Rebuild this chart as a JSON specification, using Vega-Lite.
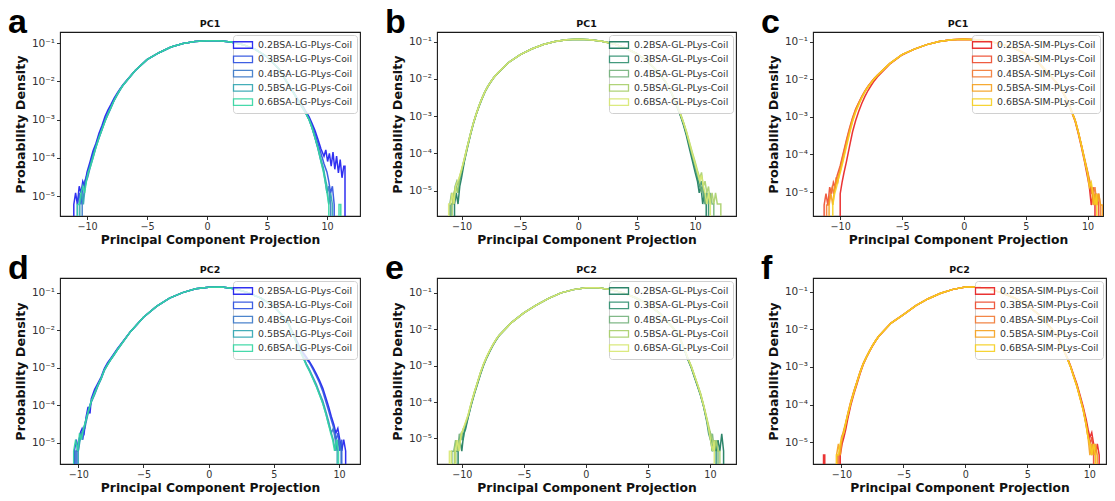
{
"$schema": "https://vega.github.io/schema/vega-lite/v6.json",
"background": "white",
"padding": {"left": 8, "top": 5, "right": 5, "bottom": 3},
"config": {
 "font": "DejaVu Sans",
 "view": {"stroke": "#1a1a1a", "strokeWidth": 1.1},
 "axis": {"domain": false, "grid": false, "ticks": true, "tickColor": "#1a1a1a", "tickSize": 3.5, "tickWidth": 0.9, "labelFont": "DejaVu Sans", "labelFontSize": 9.6, "labelColor": "#333333", "labelPadding": 2, "titleFont": "DejaVu Sans", "titleFontWeight": "bold", "titleColor": "#111111", "labelFlush": false},
 "axisX": {"titleFontSize": 12.3, "titlePadding": 2},
 "axisY": {"titleFontSize": 12.8, "titlePadding": 4, "labelFontSize": 10.5},
 "title": {"font": "DejaVu Sans", "fontSize": 9.5, "fontWeight": "bold", "color": "#111111", "offset": 4},
 "legend": {"orient": "top-right", "offset": 3, "labelFont": "DejaVu Sans", "labelFontSize": 9.4, "labelColor": "#333333", "symbolType": "M-1.9,-0.65H1.9V0.65H-1.9Z", "symbolSize": 100, "symbolStrokeWidth": 1.3, "symbolFillColor": "transparent", "fillColor": "rgba(255,255,255,0.82)", "strokeColor": "#d0d0d0", "cornerRadius": 3, "padding": 4, "rowPadding": 2.3, "labelOffset": 9}
},
"datasets": {
"names": [
{"g":"a2","name":"0.2BSA-LG-PLys-Coil"},{"g":"a3","name":"0.3BSA-LG-PLys-Coil"},{"g":"a4","name":"0.4BSA-LG-PLys-Coil"},{"g":"a5","name":"0.5BSA-LG-PLys-Coil"},{"g":"a6","name":"0.6BSA-LG-PLys-Coil"},
{"g":"b2","name":"0.2BSA-GL-PLys-Coil"},{"g":"b3","name":"0.3BSA-GL-PLys-Coil"},{"g":"b4","name":"0.4BSA-GL-PLys-Coil"},{"g":"b5","name":"0.5BSA-GL-PLys-Coil"},{"g":"b6","name":"0.6BSA-GL-PLys-Coil"},
{"g":"c2","name":"0.2BSA-SIM-PLys-Coil"},{"g":"c3","name":"0.3BSA-SIM-PLys-Coil"},{"g":"c4","name":"0.4BSA-SIM-PLys-Coil"},{"g":"c5","name":"0.5BSA-SIM-PLys-Coil"},{"g":"c6","name":"0.6BSA-SIM-PLys-Coil"},
{"g":"d2","name":"0.2BSA-LG-PLys-Coil"},{"g":"d3","name":"0.3BSA-LG-PLys-Coil"},{"g":"d4","name":"0.4BSA-LG-PLys-Coil"},{"g":"d5","name":"0.5BSA-LG-PLys-Coil"},{"g":"d6","name":"0.6BSA-LG-PLys-Coil"},
{"g":"e2","name":"0.2BSA-GL-PLys-Coil"},{"g":"e3","name":"0.3BSA-GL-PLys-Coil"},{"g":"e4","name":"0.4BSA-GL-PLys-Coil"},{"g":"e5","name":"0.5BSA-GL-PLys-Coil"},{"g":"e6","name":"0.6BSA-GL-PLys-Coil"},
{"g":"f2","name":"0.2BSA-SIM-PLys-Coil"},{"g":"f3","name":"0.3BSA-SIM-PLys-Coil"},{"g":"f4","name":"0.4BSA-SIM-PLys-Coil"},{"g":"f5","name":"0.5BSA-SIM-PLys-Coil"},{"g":"f6","name":"0.6BSA-SIM-PLys-Coil"}
],
"h": [
{"g":"a2","x":-11.1,"y":1e-9},{"g":"a2","x":-11.1,"y":6e-6},{"g":"a2","x":-10.95,"y":1.2e-5},{"g":"a2","x":-10.8,"y":6e-6},{"g":"a2","x":-10.65,"y":1.8e-5},{"g":"a2","x":-10.5,"y":1.2e-5},{"g":"a2","x":-10.35,"y":2.4e-5},{"g":"a2","x":-10.2,"y":1.8e-5},{"g":"a2","x":-10,"y":4.2e-5},{"g":"a2","x":-9.75,"y":7.8e-5},{"g":"a2","x":-9.5,"y":1.5e-4},{"g":"a2","x":-9.25,"y":2.4e-4},{"g":"a2","x":-9,"y":4.4e-4},{"g":"a2","x":-8.75,"y":7e-4},{"g":"a2","x":-8.5,"y":1.2e-3},{"g":"a2","x":-8.25,"y":1.8e-3},{"g":"a2","x":-8,"y":2.5e-3},{"g":"a2","x":-7.75,"y":3.6e-3},{"g":"a2","x":-7.5,"y":4.8e-3},{"g":"a2","x":-7.25,"y":6.3e-3},{"g":"a2","x":-7,"y":8.2e-3},
{"g":"a2","x":-6,"y":0.019},{"g":"a2","x":-5,"y":0.037},{"g":"a2","x":-4,"y":0.056},{"g":"a2","x":-3,"y":0.079},{"g":"a2","x":-2,"y":0.098},{"g":"a2","x":-1,"y":0.11},{"g":"a2","x":0,"y":0.115},{"g":"a2","x":1,"y":0.115},{"g":"a2","x":2,"y":0.107},{"g":"a2","x":3,"y":0.091},{"g":"a2","x":4,"y":0.069},{"g":"a2","x":5,"y":0.044},{"g":"a2","x":6,"y":0.021},
{"g":"a2","x":7,"y":6.5e-3},{"g":"a2","x":7.25,"y":5e-3},{"g":"a2","x":7.5,"y":3.7e-3},{"g":"a2","x":7.75,"y":2.8e-3},{"g":"a2","x":8,"y":2.2e-3},{"g":"a2","x":8.25,"y":1.6e-3},{"g":"a2","x":8.5,"y":1.2e-3},{"g":"a2","x":8.75,"y":8e-4},{"g":"a2","x":9,"y":5.2e-4},{"g":"a2","x":9.25,"y":3e-4},{"g":"a2","x":9.5,"y":1.7e-4},{"g":"a2","x":9.75,"y":1.1e-4},{"g":"a2","x":9.9,"y":1.6e-4},{"g":"a2","x":10.05,"y":8e-5},{"g":"a2","x":10.2,"y":1.3e-4},{"g":"a2","x":10.35,"y":6e-5},{"g":"a2","x":10.5,"y":1.4e-4},{"g":"a2","x":10.65,"y":5e-5},{"g":"a2","x":10.8,"y":1.1e-4},{"g":"a2","x":10.95,"y":4e-5},{"g":"a2","x":11.1,"y":9e-5},{"g":"a2","x":11.25,"y":3e-5},{"g":"a2","x":11.4,"y":6e-5},{"g":"a2","x":11.5,"y":6e-5},{"g":"a2","x":11.5,"y":1e-9},

{"g":"a3","x":-10.8,"y":1e-9},{"g":"a3","x":-10.8,"y":6e-6},{"g":"a3","x":-10.65,"y":1.2e-5},{"g":"a3","x":-10.5,"y":6e-6},{"g":"a3","x":-10.35,"y":1.8e-5},{"g":"a3","x":-10.2,"y":2.4e-5},{"g":"a3","x":-10,"y":3.6e-5},{"g":"a3","x":-9.75,"y":6.6e-5},{"g":"a3","x":-9.5,"y":1.3e-4},{"g":"a3","x":-9.25,"y":2.2e-4},{"g":"a3","x":-9,"y":3.8e-4},{"g":"a3","x":-8.75,"y":6.2e-4},{"g":"a3","x":-8.5,"y":1e-3},{"g":"a3","x":-8.25,"y":1.5e-3},{"g":"a3","x":-8,"y":2.2e-3},{"g":"a3","x":-7.75,"y":3.3e-3},{"g":"a3","x":-7.5,"y":4.5e-3},{"g":"a3","x":-7.25,"y":6.1e-3},{"g":"a3","x":-7,"y":8e-3},
{"g":"a3","x":-6,"y":0.019},{"g":"a3","x":-5,"y":0.037},{"g":"a3","x":-4,"y":0.056},{"g":"a3","x":-3,"y":0.079},{"g":"a3","x":-2,"y":0.098},{"g":"a3","x":-1,"y":0.11},{"g":"a3","x":0,"y":0.115},{"g":"a3","x":1,"y":0.115},{"g":"a3","x":2,"y":0.107},{"g":"a3","x":3,"y":0.091},{"g":"a3","x":4,"y":0.069},{"g":"a3","x":5,"y":0.044},{"g":"a3","x":6,"y":0.021},
{"g":"a3","x":7,"y":6.4e-3},{"g":"a3","x":7.25,"y":4.9e-3},{"g":"a3","x":7.5,"y":3.6e-3},{"g":"a3","x":7.75,"y":2.7e-3},{"g":"a3","x":8,"y":2.1e-3},{"g":"a3","x":8.25,"y":1.5e-3},{"g":"a3","x":8.5,"y":1.1e-3},{"g":"a3","x":8.75,"y":7e-4},{"g":"a3","x":9,"y":4.2e-4},{"g":"a3","x":9.25,"y":2.4e-4},{"g":"a3","x":9.5,"y":1.3e-4},{"g":"a3","x":9.75,"y":7e-5},{"g":"a3","x":10,"y":4.2e-5},{"g":"a3","x":10.15,"y":2.4e-5},{"g":"a3","x":10.3,"y":1.2e-5},{"g":"a3","x":10.45,"y":1.8e-5},{"g":"a3","x":10.6,"y":6e-6},{"g":"a3","x":10.6,"y":1e-9},

{"g":"a4","x":-10.4,"y":1e-9},{"g":"a4","x":-10.4,"y":6e-6},{"g":"a4","x":-10.25,"y":1.2e-5},{"g":"a4","x":-10.1,"y":2.4e-5},{"g":"a4","x":-9.95,"y":3e-5},{"g":"a4","x":-9.75,"y":5.4e-5},{"g":"a4","x":-9.5,"y":1e-4},{"g":"a4","x":-9.25,"y":1.9e-4},{"g":"a4","x":-9,"y":3.3e-4},{"g":"a4","x":-8.75,"y":5.4e-4},{"g":"a4","x":-8.5,"y":9e-4},{"g":"a4","x":-8.25,"y":1.35e-3},{"g":"a4","x":-8,"y":2e-3},{"g":"a4","x":-7.75,"y":3.1e-3},{"g":"a4","x":-7.5,"y":4.3e-3},{"g":"a4","x":-7.25,"y":5.9e-3},{"g":"a4","x":-7,"y":7.8e-3},
{"g":"a4","x":-6,"y":0.019},{"g":"a4","x":-5,"y":0.037},{"g":"a4","x":-4,"y":0.056},{"g":"a4","x":-3,"y":0.079},{"g":"a4","x":-2,"y":0.098},{"g":"a4","x":-1,"y":0.11},{"g":"a4","x":0,"y":0.115},{"g":"a4","x":1,"y":0.115},{"g":"a4","x":2,"y":0.107},{"g":"a4","x":3,"y":0.091},{"g":"a4","x":4,"y":0.069},{"g":"a4","x":5,"y":0.044},{"g":"a4","x":6,"y":0.021},
{"g":"a4","x":7,"y":6.2e-3},{"g":"a4","x":7.25,"y":4.7e-3},{"g":"a4","x":7.5,"y":3.4e-3},{"g":"a4","x":7.75,"y":2.5e-3},{"g":"a4","x":8,"y":1.9e-3},{"g":"a4","x":8.25,"y":1.4e-3},{"g":"a4","x":8.5,"y":1e-3},{"g":"a4","x":8.75,"y":6e-4},{"g":"a4","x":9,"y":3.3e-4},{"g":"a4","x":9.25,"y":1.7e-4},{"g":"a4","x":9.5,"y":8e-5},{"g":"a4","x":9.7,"y":4.8e-5},{"g":"a4","x":9.85,"y":2.4e-5},{"g":"a4","x":10,"y":1.2e-5},{"g":"a4","x":10.15,"y":1.8e-5},{"g":"a4","x":10.3,"y":6e-6},{"g":"a4","x":10.3,"y":1e-9},

{"g":"a5","x":-10.6,"y":1e-9},{"g":"a5","x":-10.6,"y":6e-6},{"g":"a5","x":-10.45,"y":1.2e-5},{"g":"a5","x":-10.3,"y":6e-6},{"g":"a5","x":-10.15,"y":1.8e-5},{"g":"a5","x":-10,"y":3e-5},{"g":"a5","x":-9.75,"y":6e-5},{"g":"a5","x":-9.5,"y":1.1e-4},{"g":"a5","x":-9.25,"y":2e-4},{"g":"a5","x":-9,"y":3.4e-4},{"g":"a5","x":-8.75,"y":5.6e-4},{"g":"a5","x":-8.5,"y":9.2e-4},{"g":"a5","x":-8.25,"y":1.4e-3},{"g":"a5","x":-8,"y":2.1e-3},{"g":"a5","x":-7.75,"y":3.1e-3},{"g":"a5","x":-7.5,"y":4.4e-3},{"g":"a5","x":-7.25,"y":6e-3},{"g":"a5","x":-7,"y":7.9e-3},
{"g":"a5","x":-6,"y":0.019},{"g":"a5","x":-5,"y":0.037},{"g":"a5","x":-4,"y":0.056},{"g":"a5","x":-3,"y":0.079},{"g":"a5","x":-2,"y":0.098},{"g":"a5","x":-1,"y":0.11},{"g":"a5","x":0,"y":0.115},{"g":"a5","x":1,"y":0.115},{"g":"a5","x":2,"y":0.107},{"g":"a5","x":3,"y":0.091},{"g":"a5","x":4,"y":0.069},{"g":"a5","x":5,"y":0.044},{"g":"a5","x":6,"y":0.021},
{"g":"a5","x":7,"y":6.3e-3},{"g":"a5","x":7.25,"y":4.8e-3},{"g":"a5","x":7.5,"y":3.5e-3},{"g":"a5","x":7.75,"y":2.6e-3},{"g":"a5","x":8,"y":2e-3},{"g":"a5","x":8.25,"y":1.45e-3},{"g":"a5","x":8.5,"y":1e-3},{"g":"a5","x":8.75,"y":6.2e-4},{"g":"a5","x":9,"y":3.4e-4},{"g":"a5","x":9.25,"y":1.8e-4},{"g":"a5","x":9.5,"y":9e-5},{"g":"a5","x":9.7,"y":5.4e-5},{"g":"a5","x":9.85,"y":3e-5},{"g":"a5","x":10,"y":1.8e-5},{"g":"a5","x":10.15,"y":6e-6},{"g":"a5","x":10.3,"y":1.2e-5},{"g":"a5","x":10.45,"y":6e-6},{"g":"a5","x":10.45,"y":1e-9},

{"g":"a6","x":-10.8,"y":1e-9},{"g":"a6","x":-10.8,"y":6e-6},{"g":"a6","x":-10.65,"y":6e-6},{"g":"a6","x":-10.5,"y":1.2e-5},{"g":"a6","x":-10.35,"y":1.8e-5},{"g":"a6","x":-10.2,"y":1.2e-5},{"g":"a6","x":-10.05,"y":2.4e-5},{"g":"a6","x":-9.9,"y":4.2e-5},{"g":"a6","x":-9.75,"y":5.4e-5},{"g":"a6","x":-9.5,"y":1e-4},{"g":"a6","x":-9.25,"y":1.9e-4},{"g":"a6","x":-9,"y":3.4e-4},{"g":"a6","x":-8.75,"y":5.5e-4},{"g":"a6","x":-8.5,"y":9e-4},{"g":"a6","x":-8.25,"y":1.4e-3},{"g":"a6","x":-8,"y":2.1e-3},{"g":"a6","x":-7.75,"y":3.1e-3},{"g":"a6","x":-7.5,"y":4.4e-3},{"g":"a6","x":-7.25,"y":6e-3},{"g":"a6","x":-7,"y":7.9e-3},
{"g":"a6","x":-6,"y":0.019},{"g":"a6","x":-5,"y":0.037},{"g":"a6","x":-4,"y":0.056},{"g":"a6","x":-3,"y":0.079},{"g":"a6","x":-2,"y":0.098},{"g":"a6","x":-1,"y":0.11},{"g":"a6","x":0,"y":0.115},{"g":"a6","x":1,"y":0.115},{"g":"a6","x":2,"y":0.107},{"g":"a6","x":3,"y":0.091},{"g":"a6","x":4,"y":0.069},{"g":"a6","x":5,"y":0.044},{"g":"a6","x":6,"y":0.021},
{"g":"a6","x":7,"y":6.3e-3},{"g":"a6","x":7.25,"y":4.8e-3},{"g":"a6","x":7.5,"y":3.5e-3},{"g":"a6","x":7.75,"y":2.6e-3},{"g":"a6","x":8,"y":2e-3},{"g":"a6","x":8.25,"y":1.45e-3},{"g":"a6","x":8.5,"y":1e-3},{"g":"a6","x":8.75,"y":6.2e-4},{"g":"a6","x":9,"y":3.4e-4},{"g":"a6","x":9.25,"y":1.8e-4},{"g":"a6","x":9.5,"y":8e-5},{"g":"a6","x":9.7,"y":4.2e-5},{"g":"a6","x":9.85,"y":2.4e-5},{"g":"a6","x":10,"y":1.2e-5},{"g":"a6","x":10.15,"y":6e-6},{"g":"a6","x":10.15,"y":1e-9},{"g":"a6","x":11,"y":1e-9},{"g":"a6","x":11,"y":6e-6},{"g":"a6","x":11.15,"y":6e-6},{"g":"a6","x":11.15,"y":1e-9},

{"g":"b2","x":-10.6,"y":1e-9},{"g":"b2","x":-10.6,"y":4.4e-6},{"g":"b2","x":-10.45,"y":8.8e-6},{"g":"b2","x":-10.3,"y":4.4e-6},{"g":"b2","x":-10.15,"y":1.3e-5},{"g":"b2","x":-10,"y":2.2e-5},{"g":"b2","x":-9.75,"y":6.2e-5},{"g":"b2","x":-9.5,"y":1.4e-4},{"g":"b2","x":-9.25,"y":3e-4},{"g":"b2","x":-9,"y":6e-4},{"g":"b2","x":-8.75,"y":1.1e-3},{"g":"b2","x":-8.5,"y":1.8e-3},{"g":"b2","x":-8.25,"y":2.9e-3},{"g":"b2","x":-8,"y":4.4e-3},{"g":"b2","x":-7.75,"y":6.2e-3},{"g":"b2","x":-7.5,"y":8.2e-3},{"g":"b2","x":-7.25,"y":1.06e-2},{"g":"b2","x":-7,"y":1.31e-2},
{"g":"b2","x":-6,"y":0.027},{"g":"b2","x":-5,"y":0.044},{"g":"b2","x":-4,"y":0.063},{"g":"b2","x":-3,"y":0.083},{"g":"b2","x":-2,"y":0.1},{"g":"b2","x":-1,"y":0.112},{"g":"b2","x":0,"y":0.115},{"g":"b2","x":1,"y":0.112},{"g":"b2","x":2,"y":0.102},{"g":"b2","x":3,"y":0.087},{"g":"b2","x":4,"y":0.068},{"g":"b2","x":5,"y":0.047},{"g":"b2","x":6,"y":0.028},
{"g":"b2","x":7,"y":1.32e-2},{"g":"b2","x":7.25,"y":1.02e-2},{"g":"b2","x":7.5,"y":7.9e-3},{"g":"b2","x":7.75,"y":5.6e-3},{"g":"b2","x":8,"y":4e-3},{"g":"b2","x":8.25,"y":2.6e-3},{"g":"b2","x":8.5,"y":1.6e-3},{"g":"b2","x":8.75,"y":1e-3},{"g":"b2","x":9,"y":5.8e-4},{"g":"b2","x":9.25,"y":3e-4},{"g":"b2","x":9.5,"y":1.4e-4},{"g":"b2","x":9.75,"y":6.6e-5},{"g":"b2","x":10,"y":3.1e-5},{"g":"b2","x":10.2,"y":1.8e-5},{"g":"b2","x":10.35,"y":8.8e-6},{"g":"b2","x":10.5,"y":1.3e-5},{"g":"b2","x":10.65,"y":4.4e-6},{"g":"b2","x":10.8,"y":8.8e-6},{"g":"b2","x":10.95,"y":4.4e-6},{"g":"b2","x":10.95,"y":1e-9},

{"g":"b3","x":-10.9,"y":1e-9},{"g":"b3","x":-10.9,"y":4.4e-6},{"g":"b3","x":-10.75,"y":4.4e-6},{"g":"b3","x":-10.6,"y":8.8e-6},{"g":"b3","x":-10.45,"y":1.3e-5},{"g":"b3","x":-10.3,"y":8.8e-6},{"g":"b3","x":-10.15,"y":1.8e-5},{"g":"b3","x":-10,"y":3.1e-5},{"g":"b3","x":-9.75,"y":6.6e-5},{"g":"b3","x":-9.5,"y":1.5e-4},{"g":"b3","x":-9.25,"y":3.1e-4},{"g":"b3","x":-9,"y":6.2e-4},{"g":"b3","x":-8.75,"y":1.1e-3},{"g":"b3","x":-8.5,"y":1.9e-3},{"g":"b3","x":-8.25,"y":3e-3},{"g":"b3","x":-8,"y":4.5e-3},{"g":"b3","x":-7.75,"y":6.3e-3},{"g":"b3","x":-7.5,"y":8.3e-3},{"g":"b3","x":-7.25,"y":1.07e-2},{"g":"b3","x":-7,"y":1.32e-2},
{"g":"b3","x":-6,"y":0.027},{"g":"b3","x":-5,"y":0.044},{"g":"b3","x":-4,"y":0.063},{"g":"b3","x":-3,"y":0.083},{"g":"b3","x":-2,"y":0.1},{"g":"b3","x":-1,"y":0.112},{"g":"b3","x":0,"y":0.115},{"g":"b3","x":1,"y":0.112},{"g":"b3","x":2,"y":0.102},{"g":"b3","x":3,"y":0.087},{"g":"b3","x":4,"y":0.068},{"g":"b3","x":5,"y":0.047},{"g":"b3","x":6,"y":0.028},
{"g":"b3","x":7,"y":1.32e-2},{"g":"b3","x":7.25,"y":1.02e-2},{"g":"b3","x":7.5,"y":7.9e-3},{"g":"b3","x":7.75,"y":5.6e-3},{"g":"b3","x":8,"y":4e-3},{"g":"b3","x":8.25,"y":2.6e-3},{"g":"b3","x":8.5,"y":1.7e-3},{"g":"b3","x":8.75,"y":1.05e-3},{"g":"b3","x":9,"y":6.3e-4},{"g":"b3","x":9.25,"y":3.4e-4},{"g":"b3","x":9.5,"y":1.7e-4},{"g":"b3","x":9.75,"y":8e-5},{"g":"b3","x":10,"y":4e-5},{"g":"b3","x":10.2,"y":2.2e-5},{"g":"b3","x":10.4,"y":1.3e-5},{"g":"b3","x":10.55,"y":1.8e-5},{"g":"b3","x":10.7,"y":8.8e-6},{"g":"b3","x":10.85,"y":4.4e-6},{"g":"b3","x":11,"y":8.8e-6},{"g":"b3","x":11.15,"y":4.4e-6},{"g":"b3","x":11.15,"y":1e-9},

{"g":"b4","x":-11,"y":1e-9},{"g":"b4","x":-11,"y":4.4e-6},{"g":"b4","x":-10.85,"y":8.8e-6},{"g":"b4","x":-10.7,"y":4.4e-6},{"g":"b4","x":-10.55,"y":1.3e-5},{"g":"b4","x":-10.4,"y":1.8e-5},{"g":"b4","x":-10.25,"y":1.3e-5},{"g":"b4","x":-10.1,"y":2.6e-5},{"g":"b4","x":-9.95,"y":4e-5},{"g":"b4","x":-9.75,"y":7.5e-5},{"g":"b4","x":-9.5,"y":1.6e-4},{"g":"b4","x":-9.25,"y":3.3e-4},{"g":"b4","x":-9,"y":6.4e-4},{"g":"b4","x":-8.75,"y":1.13e-3},{"g":"b4","x":-8.5,"y":1.9e-3},{"g":"b4","x":-8.25,"y":3e-3},{"g":"b4","x":-8,"y":4.5e-3},{"g":"b4","x":-7.75,"y":6.3e-3},{"g":"b4","x":-7.5,"y":8.3e-3},{"g":"b4","x":-7.25,"y":1.07e-2},{"g":"b4","x":-7,"y":1.32e-2},
{"g":"b4","x":-6,"y":0.027},{"g":"b4","x":-5,"y":0.044},{"g":"b4","x":-4,"y":0.063},{"g":"b4","x":-3,"y":0.083},{"g":"b4","x":-2,"y":0.1},{"g":"b4","x":-1,"y":0.112},{"g":"b4","x":0,"y":0.115},{"g":"b4","x":1,"y":0.112},{"g":"b4","x":2,"y":0.102},{"g":"b4","x":3,"y":0.087},{"g":"b4","x":4,"y":0.068},{"g":"b4","x":5,"y":0.047},{"g":"b4","x":6,"y":0.028},
{"g":"b4","x":7,"y":1.33e-2},{"g":"b4","x":7.25,"y":1.03e-2},{"g":"b4","x":7.5,"y":8e-3},{"g":"b4","x":7.75,"y":5.7e-3},{"g":"b4","x":8,"y":4.1e-3},{"g":"b4","x":8.25,"y":2.7e-3},{"g":"b4","x":8.5,"y":1.7e-3},{"g":"b4","x":8.75,"y":1.1e-3},{"g":"b4","x":9,"y":6.6e-4},{"g":"b4","x":9.25,"y":3.6e-4},{"g":"b4","x":9.5,"y":1.8e-4},{"g":"b4","x":9.75,"y":9e-5},{"g":"b4","x":10,"y":4.8e-5},{"g":"b4","x":10.2,"y":2.6e-5},{"g":"b4","x":10.4,"y":1.8e-5},{"g":"b4","x":10.55,"y":8.8e-6},{"g":"b4","x":10.7,"y":1.3e-5},{"g":"b4","x":10.85,"y":4.4e-6},{"g":"b4","x":11,"y":8.8e-6},{"g":"b4","x":11.15,"y":4.4e-6},{"g":"b4","x":11.3,"y":8.8e-6},{"g":"b4","x":11.45,"y":4.4e-6},{"g":"b4","x":11.6,"y":4.4e-6},{"g":"b4","x":11.6,"y":1e-9},

{"g":"b5","x":-10.8,"y":1e-9},{"g":"b5","x":-10.8,"y":4.4e-6},{"g":"b5","x":-10.65,"y":8.8e-6},{"g":"b5","x":-10.5,"y":1.3e-5},{"g":"b5","x":-10.35,"y":8.8e-6},{"g":"b5","x":-10.2,"y":2.2e-5},{"g":"b5","x":-10,"y":3.5e-5},{"g":"b5","x":-9.75,"y":7.1e-5},{"g":"b5","x":-9.5,"y":1.5e-4},{"g":"b5","x":-9.25,"y":3.2e-4},{"g":"b5","x":-9,"y":6.3e-4},{"g":"b5","x":-8.75,"y":1.12e-3},{"g":"b5","x":-8.5,"y":1.9e-3},{"g":"b5","x":-8.25,"y":3e-3},{"g":"b5","x":-8,"y":4.5e-3},{"g":"b5","x":-7.75,"y":6.3e-3},{"g":"b5","x":-7.5,"y":8.3e-3},{"g":"b5","x":-7.25,"y":1.07e-2},{"g":"b5","x":-7,"y":1.32e-2},
{"g":"b5","x":-6,"y":0.027},{"g":"b5","x":-5,"y":0.044},{"g":"b5","x":-4,"y":0.063},{"g":"b5","x":-3,"y":0.083},{"g":"b5","x":-2,"y":0.1},{"g":"b5","x":-1,"y":0.112},{"g":"b5","x":0,"y":0.115},{"g":"b5","x":1,"y":0.112},{"g":"b5","x":2,"y":0.102},{"g":"b5","x":3,"y":0.087},{"g":"b5","x":4,"y":0.068},{"g":"b5","x":5,"y":0.047},{"g":"b5","x":6,"y":0.028},
{"g":"b5","x":7,"y":1.34e-2},{"g":"b5","x":7.25,"y":1.04e-2},{"g":"b5","x":7.5,"y":8.1e-3},{"g":"b5","x":7.75,"y":5.8e-3},{"g":"b5","x":8,"y":4.2e-3},{"g":"b5","x":8.25,"y":2.8e-3},{"g":"b5","x":8.5,"y":1.8e-3},{"g":"b5","x":8.75,"y":1.15e-3},{"g":"b5","x":9,"y":7e-4},{"g":"b5","x":9.25,"y":4e-4},{"g":"b5","x":9.5,"y":2.1e-4},{"g":"b5","x":9.75,"y":1.1e-4},{"g":"b5","x":10,"y":6e-5},{"g":"b5","x":10.2,"y":3.5e-5},{"g":"b5","x":10.4,"y":2.2e-5},{"g":"b5","x":10.55,"y":3.1e-5},{"g":"b5","x":10.7,"y":1.3e-5},{"g":"b5","x":10.85,"y":1.8e-5},{"g":"b5","x":11,"y":8.8e-6},{"g":"b5","x":11.15,"y":1.3e-5},{"g":"b5","x":11.3,"y":4.4e-6},{"g":"b5","x":11.45,"y":8.8e-6},{"g":"b5","x":11.6,"y":4.4e-6},{"g":"b5","x":11.75,"y":8.8e-6},{"g":"b5","x":11.9,"y":4.4e-6},{"g":"b5","x":12.05,"y":4.4e-6},{"g":"b5","x":12.2,"y":4.4e-6},{"g":"b5","x":12.2,"y":1e-9},

{"g":"b6","x":-11.1,"y":1e-9},{"g":"b6","x":-11.1,"y":4.4e-6},{"g":"b6","x":-10.95,"y":4.4e-6},{"g":"b6","x":-10.8,"y":8.8e-6},{"g":"b6","x":-10.65,"y":4.4e-6},{"g":"b6","x":-10.5,"y":1.3e-5},{"g":"b6","x":-10.35,"y":1.8e-5},{"g":"b6","x":-10.2,"y":2.2e-5},{"g":"b6","x":-10,"y":3.8e-5},{"g":"b6","x":-9.75,"y":7.3e-5},{"g":"b6","x":-9.5,"y":1.55e-4},{"g":"b6","x":-9.25,"y":3.2e-4},{"g":"b6","x":-9,"y":6.3e-4},{"g":"b6","x":-8.75,"y":1.12e-3},{"g":"b6","x":-8.5,"y":1.9e-3},{"g":"b6","x":-8.25,"y":3e-3},{"g":"b6","x":-8,"y":4.5e-3},{"g":"b6","x":-7.75,"y":6.3e-3},{"g":"b6","x":-7.5,"y":8.3e-3},{"g":"b6","x":-7.25,"y":1.07e-2},{"g":"b6","x":-7,"y":1.32e-2},
{"g":"b6","x":-6,"y":0.027},{"g":"b6","x":-5,"y":0.044},{"g":"b6","x":-4,"y":0.063},{"g":"b6","x":-3,"y":0.083},{"g":"b6","x":-2,"y":0.1},{"g":"b6","x":-1,"y":0.112},{"g":"b6","x":0,"y":0.115},{"g":"b6","x":1,"y":0.112},{"g":"b6","x":2,"y":0.102},{"g":"b6","x":3,"y":0.087},{"g":"b6","x":4,"y":0.068},{"g":"b6","x":5,"y":0.047},{"g":"b6","x":6,"y":0.028},
{"g":"b6","x":7,"y":1.33e-2},{"g":"b6","x":7.25,"y":1.03e-2},{"g":"b6","x":7.5,"y":8e-3},{"g":"b6","x":7.75,"y":5.7e-3},{"g":"b6","x":8,"y":4.1e-3},{"g":"b6","x":8.25,"y":2.7e-3},{"g":"b6","x":8.5,"y":1.75e-3},{"g":"b6","x":8.75,"y":1.1e-3},{"g":"b6","x":9,"y":6.8e-4},{"g":"b6","x":9.25,"y":3.8e-4},{"g":"b6","x":9.5,"y":2e-4},{"g":"b6","x":9.75,"y":1e-4},{"g":"b6","x":10,"y":5.2e-5},{"g":"b6","x":10.2,"y":3.1e-5},{"g":"b6","x":10.4,"y":1.8e-5},{"g":"b6","x":10.55,"y":2.6e-5},{"g":"b6","x":10.7,"y":1.3e-5},{"g":"b6","x":10.85,"y":8.8e-6},{"g":"b6","x":11,"y":4.4e-6},{"g":"b6","x":11.15,"y":8.8e-6},{"g":"b6","x":11.3,"y":4.4e-6},{"g":"b6","x":11.3,"y":1e-9},

{"g":"c2","x":-10,"y":1e-9},{"g":"c2","x":-10,"y":9e-6},{"g":"c2","x":-9.85,"y":1.8e-5},{"g":"c2","x":-9.7,"y":3.2e-5},{"g":"c2","x":-9.5,"y":6.3e-5},{"g":"c2","x":-9.25,"y":1.6e-4},{"g":"c2","x":-9,"y":4e-4},{"g":"c2","x":-8.75,"y":8e-4},{"g":"c2","x":-8.5,"y":1.4e-3},{"g":"c2","x":-8.25,"y":2.3e-3},{"g":"c2","x":-8,"y":3.5e-3},{"g":"c2","x":-7.75,"y":5e-3},{"g":"c2","x":-7.5,"y":6.8e-3},{"g":"c2","x":-7.25,"y":9e-3},{"g":"c2","x":-7,"y":1.15e-2},
{"g":"c2","x":-6,"y":0.025},{"g":"c2","x":-5,"y":0.044},{"g":"c2","x":-4,"y":0.063},{"g":"c2","x":-3,"y":0.083},{"g":"c2","x":-2,"y":0.1},{"g":"c2","x":-1,"y":0.112},{"g":"c2","x":0,"y":0.115},{"g":"c2","x":1,"y":0.112},{"g":"c2","x":2,"y":0.102},{"g":"c2","x":3,"y":0.087},{"g":"c2","x":4,"y":0.068},{"g":"c2","x":5,"y":0.047},{"g":"c2","x":6,"y":0.028},
{"g":"c2","x":7,"y":1.25e-2},{"g":"c2","x":7.25,"y":9.9e-3},{"g":"c2","x":7.5,"y":7.8e-3},{"g":"c2","x":7.75,"y":5.9e-3},{"g":"c2","x":8,"y":4.4e-3},{"g":"c2","x":8.25,"y":3.1e-3},{"g":"c2","x":8.5,"y":2e-3},{"g":"c2","x":8.75,"y":1.25e-3},{"g":"c2","x":9,"y":7.5e-4},{"g":"c2","x":9.25,"y":3.6e-4},{"g":"c2","x":9.5,"y":1.6e-4},{"g":"c2","x":9.75,"y":6.5e-5},{"g":"c2","x":10,"y":2.5e-5},{"g":"c2","x":10.15,"y":1.35e-5},{"g":"c2","x":10.3,"y":4.5e-6},{"g":"c2","x":10.45,"y":9e-6},{"g":"c2","x":10.6,"y":4.5e-6},{"g":"c2","x":10.6,"y":1e-9},

{"g":"c3","x":-11.3,"y":1e-9},{"g":"c3","x":-11.3,"y":4.5e-6},{"g":"c3","x":-11.15,"y":9e-6},{"g":"c3","x":-11,"y":4.5e-6},{"g":"c3","x":-10.85,"y":1.35e-5},{"g":"c3","x":-10.7,"y":9e-6},{"g":"c3","x":-10.55,"y":1.8e-5},{"g":"c3","x":-10.4,"y":1.35e-5},{"g":"c3","x":-10.25,"y":2.7e-5},{"g":"c3","x":-10,"y":5e-5},{"g":"c3","x":-9.75,"y":1.1e-4},{"g":"c3","x":-9.5,"y":2.4e-4},{"g":"c3","x":-9.25,"y":5e-4},{"g":"c3","x":-9,"y":9.5e-4},{"g":"c3","x":-8.75,"y":1.6e-3},{"g":"c3","x":-8.5,"y":2.4e-3},{"g":"c3","x":-8.25,"y":3.5e-3},{"g":"c3","x":-8,"y":4.9e-3},{"g":"c3","x":-7.75,"y":6.5e-3},{"g":"c3","x":-7.5,"y":8.3e-3},{"g":"c3","x":-7.25,"y":1.05e-2},{"g":"c3","x":-7,"y":1.27e-2},
{"g":"c3","x":-6,"y":0.026},{"g":"c3","x":-5,"y":0.045},{"g":"c3","x":-4,"y":0.063},{"g":"c3","x":-3,"y":0.083},{"g":"c3","x":-2,"y":0.1},{"g":"c3","x":-1,"y":0.112},{"g":"c3","x":0,"y":0.115},{"g":"c3","x":1,"y":0.112},{"g":"c3","x":2,"y":0.102},{"g":"c3","x":3,"y":0.087},{"g":"c3","x":4,"y":0.068},{"g":"c3","x":5,"y":0.047},{"g":"c3","x":6,"y":0.028},
{"g":"c3","x":7,"y":1.26e-2},{"g":"c3","x":7.25,"y":1e-2},{"g":"c3","x":7.5,"y":7.9e-3},{"g":"c3","x":7.75,"y":6e-3},{"g":"c3","x":8,"y":4.5e-3},{"g":"c3","x":8.25,"y":3.2e-3},{"g":"c3","x":8.5,"y":2.1e-3},{"g":"c3","x":8.75,"y":1.3e-3},{"g":"c3","x":9,"y":8e-4},{"g":"c3","x":9.25,"y":3.9e-4},{"g":"c3","x":9.5,"y":1.8e-4},{"g":"c3","x":9.75,"y":7.5e-5},{"g":"c3","x":10,"y":3.2e-5},{"g":"c3","x":10.15,"y":1.8e-5},{"g":"c3","x":10.3,"y":9e-6},{"g":"c3","x":10.45,"y":1.35e-5},{"g":"c3","x":10.6,"y":4.5e-6},{"g":"c3","x":10.75,"y":9e-6},{"g":"c3","x":10.9,"y":4.5e-6},{"g":"c3","x":10.9,"y":1e-9},

{"g":"c4","x":-11.1,"y":1e-9},{"g":"c4","x":-11.1,"y":4.5e-6},{"g":"c4","x":-10.95,"y":4.5e-6},{"g":"c4","x":-10.8,"y":9e-6},{"g":"c4","x":-10.65,"y":1.35e-5},{"g":"c4","x":-10.5,"y":9e-6},{"g":"c4","x":-10.35,"y":2.2e-5},{"g":"c4","x":-10.2,"y":1.8e-5},{"g":"c4","x":-10,"y":4.4e-5},{"g":"c4","x":-9.75,"y":1e-4},{"g":"c4","x":-9.5,"y":2.2e-4},{"g":"c4","x":-9.25,"y":4.6e-4},{"g":"c4","x":-9,"y":9e-4},{"g":"c4","x":-8.75,"y":1.55e-3},{"g":"c4","x":-8.5,"y":2.35e-3},{"g":"c4","x":-8.25,"y":3.4e-3},{"g":"c4","x":-8,"y":4.8e-3},{"g":"c4","x":-7.75,"y":6.4e-3},{"g":"c4","x":-7.5,"y":8.2e-3},{"g":"c4","x":-7.25,"y":1.04e-2},{"g":"c4","x":-7,"y":1.27e-2},
{"g":"c4","x":-6,"y":0.026},{"g":"c4","x":-5,"y":0.045},{"g":"c4","x":-4,"y":0.063},{"g":"c4","x":-3,"y":0.083},{"g":"c4","x":-2,"y":0.1},{"g":"c4","x":-1,"y":0.112},{"g":"c4","x":0,"y":0.115},{"g":"c4","x":1,"y":0.112},{"g":"c4","x":2,"y":0.102},{"g":"c4","x":3,"y":0.087},{"g":"c4","x":4,"y":0.068},{"g":"c4","x":5,"y":0.047},{"g":"c4","x":6,"y":0.028},
{"g":"c4","x":7,"y":1.27e-2},{"g":"c4","x":7.25,"y":1.01e-2},{"g":"c4","x":7.5,"y":8e-3},{"g":"c4","x":7.75,"y":6.1e-3},{"g":"c4","x":8,"y":4.6e-3},{"g":"c4","x":8.25,"y":3.3e-3},{"g":"c4","x":8.5,"y":2.2e-3},{"g":"c4","x":8.75,"y":1.35e-3},{"g":"c4","x":9,"y":8.2e-4},{"g":"c4","x":9.25,"y":4e-4},{"g":"c4","x":9.5,"y":1.8e-4},{"g":"c4","x":9.75,"y":8e-5},{"g":"c4","x":10,"y":3.6e-5},{"g":"c4","x":10.15,"y":2.2e-5},{"g":"c4","x":10.3,"y":1.35e-5},{"g":"c4","x":10.45,"y":9e-6},{"g":"c4","x":10.6,"y":1.35e-5},{"g":"c4","x":10.75,"y":4.5e-6},{"g":"c4","x":10.9,"y":9e-6},{"g":"c4","x":11.05,"y":4.5e-6},{"g":"c4","x":11.05,"y":1e-9},

{"g":"c5","x":-10.9,"y":1e-9},{"g":"c5","x":-10.9,"y":4.5e-6},{"g":"c5","x":-10.75,"y":9e-6},{"g":"c5","x":-10.6,"y":4.5e-6},{"g":"c5","x":-10.45,"y":1.35e-5},{"g":"c5","x":-10.3,"y":1.8e-5},{"g":"c5","x":-10.15,"y":2.7e-5},{"g":"c5","x":-10,"y":3.6e-5},{"g":"c5","x":-9.75,"y":8e-5},{"g":"c5","x":-9.5,"y":1.8e-4},{"g":"c5","x":-9.25,"y":3.9e-4},{"g":"c5","x":-9,"y":8e-4},{"g":"c5","x":-8.75,"y":1.4e-3},{"g":"c5","x":-8.5,"y":2.2e-3},{"g":"c5","x":-8.25,"y":3.3e-3},{"g":"c5","x":-8,"y":4.7e-3},{"g":"c5","x":-7.75,"y":6.3e-3},{"g":"c5","x":-7.5,"y":8.1e-3},{"g":"c5","x":-7.25,"y":1.03e-2},{"g":"c5","x":-7,"y":1.26e-2},
{"g":"c5","x":-6,"y":0.026},{"g":"c5","x":-5,"y":0.045},{"g":"c5","x":-4,"y":0.063},{"g":"c5","x":-3,"y":0.083},{"g":"c5","x":-2,"y":0.1},{"g":"c5","x":-1,"y":0.112},{"g":"c5","x":0,"y":0.115},{"g":"c5","x":1,"y":0.112},{"g":"c5","x":2,"y":0.102},{"g":"c5","x":3,"y":0.087},{"g":"c5","x":4,"y":0.068},{"g":"c5","x":5,"y":0.047},{"g":"c5","x":6,"y":0.028},
{"g":"c5","x":7,"y":1.26e-2},{"g":"c5","x":7.25,"y":1e-2},{"g":"c5","x":7.5,"y":7.9e-3},{"g":"c5","x":7.75,"y":6e-3},{"g":"c5","x":8,"y":4.5e-3},{"g":"c5","x":8.25,"y":3.2e-3},{"g":"c5","x":8.5,"y":2.1e-3},{"g":"c5","x":8.75,"y":1.3e-3},{"g":"c5","x":9,"y":8e-4},{"g":"c5","x":9.25,"y":4e-4},{"g":"c5","x":9.5,"y":1.8e-4},{"g":"c5","x":9.75,"y":7.5e-5},{"g":"c5","x":10,"y":3.4e-5},{"g":"c5","x":10.15,"y":1.8e-5},{"g":"c5","x":10.3,"y":1.35e-5},{"g":"c5","x":10.45,"y":4.5e-6},{"g":"c5","x":10.6,"y":9e-6},{"g":"c5","x":10.75,"y":4.5e-6},{"g":"c5","x":10.9,"y":9e-6},{"g":"c5","x":11.05,"y":4.5e-6},{"g":"c5","x":11.2,"y":4.5e-6},{"g":"c5","x":11.2,"y":1e-9},

{"g":"c6","x":-10.6,"y":1e-9},{"g":"c6","x":-10.6,"y":4.5e-6},{"g":"c6","x":-10.45,"y":9e-6},{"g":"c6","x":-10.3,"y":1.35e-5},{"g":"c6","x":-10.15,"y":2.2e-5},{"g":"c6","x":-10,"y":3.2e-5},{"g":"c6","x":-9.75,"y":7e-5},{"g":"c6","x":-9.5,"y":1.6e-4},{"g":"c6","x":-9.25,"y":3.5e-4},{"g":"c6","x":-9,"y":7.5e-4},{"g":"c6","x":-8.75,"y":1.35e-3},{"g":"c6","x":-8.5,"y":2.1e-3},{"g":"c6","x":-8.25,"y":3.2e-3},{"g":"c6","x":-8,"y":4.6e-3},{"g":"c6","x":-7.75,"y":6.2e-3},{"g":"c6","x":-7.5,"y":8e-3},{"g":"c6","x":-7.25,"y":1.02e-2},{"g":"c6","x":-7,"y":1.25e-2},
{"g":"c6","x":-6,"y":0.026},{"g":"c6","x":-5,"y":0.045},{"g":"c6","x":-4,"y":0.063},{"g":"c6","x":-3,"y":0.083},{"g":"c6","x":-2,"y":0.1},{"g":"c6","x":-1,"y":0.112},{"g":"c6","x":0,"y":0.115},{"g":"c6","x":1,"y":0.112},{"g":"c6","x":2,"y":0.102},{"g":"c6","x":3,"y":0.087},{"g":"c6","x":4,"y":0.068},{"g":"c6","x":5,"y":0.047},{"g":"c6","x":6,"y":0.028},
{"g":"c6","x":7,"y":1.26e-2},{"g":"c6","x":7.25,"y":1e-2},{"g":"c6","x":7.5,"y":7.9e-3},{"g":"c6","x":7.75,"y":6e-3},{"g":"c6","x":8,"y":4.5e-3},{"g":"c6","x":8.25,"y":3.2e-3},{"g":"c6","x":8.5,"y":2.1e-3},{"g":"c6","x":8.75,"y":1.3e-3},{"g":"c6","x":9,"y":7.9e-4},{"g":"c6","x":9.25,"y":3.9e-4},{"g":"c6","x":9.5,"y":1.75e-4},{"g":"c6","x":9.75,"y":7.2e-5},{"g":"c6","x":10,"y":3e-5},{"g":"c6","x":10.15,"y":1.35e-5},{"g":"c6","x":10.3,"y":1.8e-5},{"g":"c6","x":10.45,"y":9e-6},{"g":"c6","x":10.6,"y":4.5e-6},{"g":"c6","x":10.75,"y":9e-6},{"g":"c6","x":10.75,"y":1e-9},

{"g":"d2","x":-10.3,"y":1e-9},{"g":"d2","x":-10.3,"y":6e-6},{"g":"d2","x":-10.15,"y":1.2e-5},{"g":"d2","x":-10,"y":6e-6},{"g":"d2","x":-9.85,"y":1.8e-5},{"g":"d2","x":-9.7,"y":2.4e-5},{"g":"d2","x":-9.55,"y":1.8e-5},{"g":"d2","x":-9.4,"y":4.8e-5},{"g":"d2","x":-9.25,"y":9e-5},{"g":"d2","x":-9.1,"y":6e-5},{"g":"d2","x":-9,"y":1.5e-4},{"g":"d2","x":-8.75,"y":2.6e-4},{"g":"d2","x":-8.5,"y":3.8e-4},{"g":"d2","x":-8.25,"y":5.6e-4},{"g":"d2","x":-8,"y":9.5e-4},{"g":"d2","x":-7.75,"y":1.35e-3},{"g":"d2","x":-7.5,"y":1.8e-3},{"g":"d2","x":-7.25,"y":2.4e-3},{"g":"d2","x":-7,"y":3.2e-3},
{"g":"d2","x":-6,"y":0.0091},{"g":"d2","x":-5,"y":0.022},{"g":"d2","x":-4,"y":0.043},{"g":"d2","x":-3,"y":0.071},{"g":"d2","x":-2,"y":0.1},{"g":"d2","x":-1,"y":0.126},{"g":"d2","x":0,"y":0.138},{"g":"d2","x":1,"y":0.141},{"g":"d2","x":2,"y":0.126},{"g":"d2","x":3,"y":0.1},{"g":"d2","x":4,"y":0.071},{"g":"d2","x":5,"y":0.043},{"g":"d2","x":6,"y":0.018},
{"g":"d2","x":7,"y":3.4e-3},{"g":"d2","x":7.25,"y":2.5e-3},{"g":"d2","x":7.5,"y":1.9e-3},{"g":"d2","x":7.75,"y":1.4e-3},{"g":"d2","x":8,"y":1e-3},{"g":"d2","x":8.25,"y":6.8e-4},{"g":"d2","x":8.5,"y":4.5e-4},{"g":"d2","x":8.75,"y":2.8e-4},{"g":"d2","x":9,"y":1.5e-4},{"g":"d2","x":9.2,"y":9e-5},{"g":"d2","x":9.4,"y":5e-5},{"g":"d2","x":9.6,"y":3e-5},{"g":"d2","x":9.75,"y":1.8e-5},{"g":"d2","x":9.9,"y":2.4e-5},{"g":"d2","x":10.05,"y":1.2e-5},{"g":"d2","x":10.2,"y":6e-6},{"g":"d2","x":10.35,"y":1.2e-5},{"g":"d2","x":10.5,"y":6e-6},{"g":"d2","x":10.5,"y":1e-9},

{"g":"d3","x":-10.1,"y":1e-9},{"g":"d3","x":-10.1,"y":6e-6},{"g":"d3","x":-9.95,"y":1.2e-5},{"g":"d3","x":-9.8,"y":1.8e-5},{"g":"d3","x":-9.65,"y":1.2e-5},{"g":"d3","x":-9.5,"y":3e-5},{"g":"d3","x":-9.25,"y":7e-5},{"g":"d3","x":-9,"y":1.3e-4},{"g":"d3","x":-8.75,"y":2.2e-4},{"g":"d3","x":-8.5,"y":3.4e-4},{"g":"d3","x":-8.25,"y":5.2e-4},{"g":"d3","x":-8,"y":8.8e-4},{"g":"d3","x":-7.75,"y":1.25e-3},{"g":"d3","x":-7.5,"y":1.7e-3},{"g":"d3","x":-7.25,"y":2.3e-3},{"g":"d3","x":-7,"y":3.1e-3},
{"g":"d3","x":-6,"y":0.0091},{"g":"d3","x":-5,"y":0.022},{"g":"d3","x":-4,"y":0.043},{"g":"d3","x":-3,"y":0.071},{"g":"d3","x":-2,"y":0.1},{"g":"d3","x":-1,"y":0.126},{"g":"d3","x":0,"y":0.138},{"g":"d3","x":1,"y":0.141},{"g":"d3","x":2,"y":0.126},{"g":"d3","x":3,"y":0.1},{"g":"d3","x":4,"y":0.071},{"g":"d3","x":5,"y":0.043},{"g":"d3","x":6,"y":0.018},
{"g":"d3","x":7,"y":3.2e-3},{"g":"d3","x":7.25,"y":2.3e-3},{"g":"d3","x":7.5,"y":1.7e-3},{"g":"d3","x":7.75,"y":1.3e-3},{"g":"d3","x":8,"y":9e-4},{"g":"d3","x":8.25,"y":6e-4},{"g":"d3","x":8.5,"y":3.9e-4},{"g":"d3","x":8.75,"y":2.3e-4},{"g":"d3","x":9,"y":1.2e-4},{"g":"d3","x":9.2,"y":7e-5},{"g":"d3","x":9.4,"y":4e-5},{"g":"d3","x":9.6,"y":2.4e-5},{"g":"d3","x":9.75,"y":1.2e-5},{"g":"d3","x":9.9,"y":1.8e-5},{"g":"d3","x":10.05,"y":6e-6},{"g":"d3","x":10.2,"y":1.2e-5},{"g":"d3","x":10.2,"y":1e-9},

{"g":"d4","x":-10.2,"y":1e-9},{"g":"d4","x":-10.2,"y":6e-6},{"g":"d4","x":-10.05,"y":6e-6},{"g":"d4","x":-9.9,"y":1.2e-5},{"g":"d4","x":-9.75,"y":1.8e-5},{"g":"d4","x":-9.5,"y":2.4e-5},{"g":"d4","x":-9.35,"y":4.2e-5},{"g":"d4","x":-9.25,"y":6e-5},{"g":"d4","x":-9,"y":1.2e-4},{"g":"d4","x":-8.75,"y":1.9e-4},{"g":"d4","x":-8.5,"y":3.2e-4},{"g":"d4","x":-8.25,"y":5e-4},{"g":"d4","x":-8,"y":8.4e-4},{"g":"d4","x":-7.75,"y":1.2e-3},{"g":"d4","x":-7.5,"y":1.65e-3},{"g":"d4","x":-7.25,"y":2.2e-3},{"g":"d4","x":-7,"y":3e-3},
{"g":"d4","x":-6,"y":0.0091},{"g":"d4","x":-5,"y":0.022},{"g":"d4","x":-4,"y":0.043},{"g":"d4","x":-3,"y":0.071},{"g":"d4","x":-2,"y":0.1},{"g":"d4","x":-1,"y":0.126},{"g":"d4","x":0,"y":0.138},{"g":"d4","x":1,"y":0.141},{"g":"d4","x":2,"y":0.126},{"g":"d4","x":3,"y":0.1},{"g":"d4","x":4,"y":0.071},{"g":"d4","x":5,"y":0.043},{"g":"d4","x":6,"y":0.018},
{"g":"d4","x":7,"y":2.9e-3},{"g":"d4","x":7.25,"y":1.9e-3},{"g":"d4","x":7.5,"y":1.25e-3},{"g":"d4","x":7.75,"y":8.5e-4},{"g":"d4","x":8,"y":5.5e-4},{"g":"d4","x":8.25,"y":3.6e-4},{"g":"d4","x":8.5,"y":2.1e-4},{"g":"d4","x":8.75,"y":1.3e-4},{"g":"d4","x":9,"y":6.5e-5},{"g":"d4","x":9.2,"y":3.6e-5},{"g":"d4","x":9.4,"y":1.8e-5},{"g":"d4","x":9.55,"y":2.4e-5},{"g":"d4","x":9.7,"y":1.2e-5},{"g":"d4","x":9.85,"y":6e-6},{"g":"d4","x":10,"y":1.2e-5},{"g":"d4","x":10.15,"y":6e-6},{"g":"d4","x":10.15,"y":1e-9},

{"g":"d5","x":-10,"y":1e-9},{"g":"d5","x":-10,"y":6e-6},{"g":"d5","x":-9.85,"y":1.2e-5},{"g":"d5","x":-9.7,"y":1.8e-5},{"g":"d5","x":-9.5,"y":3e-5},{"g":"d5","x":-9.25,"y":6.4e-5},{"g":"d5","x":-9,"y":1.25e-4},{"g":"d5","x":-8.75,"y":2e-4},{"g":"d5","x":-8.5,"y":3.3e-4},{"g":"d5","x":-8.25,"y":5e-4},{"g":"d5","x":-8,"y":8.5e-4},{"g":"d5","x":-7.75,"y":1.2e-3},{"g":"d5","x":-7.5,"y":1.65e-3},{"g":"d5","x":-7.25,"y":2.2e-3},{"g":"d5","x":-7,"y":3e-3},
{"g":"d5","x":-6,"y":0.0091},{"g":"d5","x":-5,"y":0.022},{"g":"d5","x":-4,"y":0.043},{"g":"d5","x":-3,"y":0.071},{"g":"d5","x":-2,"y":0.1},{"g":"d5","x":-1,"y":0.126},{"g":"d5","x":0,"y":0.138},{"g":"d5","x":1,"y":0.141},{"g":"d5","x":2,"y":0.126},{"g":"d5","x":3,"y":0.1},{"g":"d5","x":4,"y":0.071},{"g":"d5","x":5,"y":0.043},{"g":"d5","x":6,"y":0.018},
{"g":"d5","x":7,"y":2.8e-3},{"g":"d5","x":7.25,"y":1.8e-3},{"g":"d5","x":7.5,"y":1.15e-3},{"g":"d5","x":7.75,"y":7.8e-4},{"g":"d5","x":8,"y":5e-4},{"g":"d5","x":8.25,"y":3.2e-4},{"g":"d5","x":8.5,"y":1.9e-4},{"g":"d5","x":8.75,"y":1.1e-4},{"g":"d5","x":9,"y":5.6e-5},{"g":"d5","x":9.2,"y":3e-5},{"g":"d5","x":9.4,"y":1.8e-5},{"g":"d5","x":9.55,"y":1.2e-5},{"g":"d5","x":9.7,"y":6e-6},{"g":"d5","x":9.85,"y":1.2e-5},{"g":"d5","x":9.85,"y":1e-9},

{"g":"d6","x":-10.35,"y":1e-9},{"g":"d6","x":-10.35,"y":6e-6},{"g":"d6","x":-10.2,"y":1.2e-5},{"g":"d6","x":-10.05,"y":6e-6},{"g":"d6","x":-9.9,"y":1.8e-5},{"g":"d6","x":-9.75,"y":1.2e-5},{"g":"d6","x":-9.6,"y":2.4e-5},{"g":"d6","x":-9.45,"y":3.6e-5},{"g":"d6","x":-9.25,"y":6.6e-5},{"g":"d6","x":-9,"y":1.3e-4},{"g":"d6","x":-8.75,"y":2.1e-4},{"g":"d6","x":-8.5,"y":3.4e-4},{"g":"d6","x":-8.25,"y":5.2e-4},{"g":"d6","x":-8,"y":8.6e-4},{"g":"d6","x":-7.75,"y":1.2e-3},{"g":"d6","x":-7.5,"y":1.66e-3},{"g":"d6","x":-7.25,"y":2.24e-3},{"g":"d6","x":-7,"y":3e-3},
{"g":"d6","x":-6,"y":0.0091},{"g":"d6","x":-5,"y":0.022},{"g":"d6","x":-4,"y":0.043},{"g":"d6","x":-3,"y":0.071},{"g":"d6","x":-2,"y":0.1},{"g":"d6","x":-1,"y":0.126},{"g":"d6","x":0,"y":0.138},{"g":"d6","x":1,"y":0.141},{"g":"d6","x":2,"y":0.126},{"g":"d6","x":3,"y":0.1},{"g":"d6","x":4,"y":0.071},{"g":"d6","x":5,"y":0.043},{"g":"d6","x":6,"y":0.018},
{"g":"d6","x":7,"y":2.8e-3},{"g":"d6","x":7.25,"y":1.8e-3},{"g":"d6","x":7.5,"y":1.17e-3},{"g":"d6","x":7.75,"y":7.9e-4},{"g":"d6","x":8,"y":5e-4},{"g":"d6","x":8.25,"y":3.2e-4},{"g":"d6","x":8.5,"y":1.9e-4},{"g":"d6","x":8.75,"y":1.1e-4},{"g":"d6","x":9,"y":5.6e-5},{"g":"d6","x":9.2,"y":3e-5},{"g":"d6","x":9.35,"y":1.8e-5},{"g":"d6","x":9.5,"y":1.2e-5},{"g":"d6","x":9.65,"y":6e-6},{"g":"d6","x":9.8,"y":1.2e-5},{"g":"d6","x":9.95,"y":6e-6},{"g":"d6","x":9.95,"y":1e-9},

{"g":"e2","x":-10.3,"y":1e-9},{"g":"e2","x":-10.3,"y":4.5e-6},{"g":"e2","x":-10.15,"y":9e-6},{"g":"e2","x":-10,"y":4.5e-6},{"g":"e2","x":-9.85,"y":1.35e-5},{"g":"e2","x":-9.7,"y":1.8e-5},{"g":"e2","x":-9.5,"y":3.6e-5},{"g":"e2","x":-9.25,"y":8e-5},{"g":"e2","x":-9,"y":1.6e-4},{"g":"e2","x":-8.75,"y":3e-4},{"g":"e2","x":-8.5,"y":5.7e-4},{"g":"e2","x":-8.25,"y":1e-3},{"g":"e2","x":-8,"y":1.6e-3},{"g":"e2","x":-7.75,"y":2.4e-3},{"g":"e2","x":-7.5,"y":3.5e-3},{"g":"e2","x":-7.25,"y":4.9e-3},{"g":"e2","x":-7,"y":6.5e-3},
{"g":"e2","x":-6,"y":0.015},{"g":"e2","x":-5,"y":0.0275},{"g":"e2","x":-4,"y":0.045},{"g":"e2","x":-3,"y":0.069},{"g":"e2","x":-2,"y":0.098},{"g":"e2","x":-1,"y":0.12},{"g":"e2","x":0,"y":0.135},{"g":"e2","x":1,"y":0.135},{"g":"e2","x":2,"y":0.12},{"g":"e2","x":3,"y":0.098},{"g":"e2","x":4,"y":0.072},{"g":"e2","x":5,"y":0.048},{"g":"e2","x":6,"y":0.026},
{"g":"e2","x":7,"y":1.1e-2},{"g":"e2","x":7.25,"y":8.3e-3},{"g":"e2","x":7.5,"y":6.3e-3},{"g":"e2","x":7.75,"y":4e-3},{"g":"e2","x":8,"y":2.4e-3},{"g":"e2","x":8.25,"y":1.4e-3},{"g":"e2","x":8.5,"y":8.6e-4},{"g":"e2","x":8.75,"y":4.8e-4},{"g":"e2","x":9,"y":2.7e-4},{"g":"e2","x":9.25,"y":1.5e-4},{"g":"e2","x":9.5,"y":7.5e-5},{"g":"e2","x":9.75,"y":3.2e-5},{"g":"e2","x":9.9,"y":1.8e-5},{"g":"e2","x":10.05,"y":1.35e-5},{"g":"e2","x":10.2,"y":4.5e-6},{"g":"e2","x":10.35,"y":9e-6},{"g":"e2","x":10.5,"y":4.5e-6},{"g":"e2","x":10.65,"y":9e-6},{"g":"e2","x":10.8,"y":4.5e-6},{"g":"e2","x":10.95,"y":1.35e-5},{"g":"e2","x":11.1,"y":4.5e-6},{"g":"e2","x":11.1,"y":1e-9},

{"g":"e3","x":-10.5,"y":1e-9},{"g":"e3","x":-10.5,"y":4.5e-6},{"g":"e3","x":-10.35,"y":4.5e-6},{"g":"e3","x":-10.2,"y":9e-6},{"g":"e3","x":-10.05,"y":1.35e-5},{"g":"e3","x":-9.9,"y":9e-6},{"g":"e3","x":-9.75,"y":1.8e-5},{"g":"e3","x":-9.5,"y":3.8e-5},{"g":"e3","x":-9.25,"y":8.5e-5},{"g":"e3","x":-9,"y":1.7e-4},{"g":"e3","x":-8.75,"y":3.2e-4},{"g":"e3","x":-8.5,"y":6e-4},{"g":"e3","x":-8.25,"y":1.05e-3},{"g":"e3","x":-8,"y":1.66e-3},{"g":"e3","x":-7.75,"y":2.5e-3},{"g":"e3","x":-7.5,"y":3.6e-3},{"g":"e3","x":-7.25,"y":5e-3},{"g":"e3","x":-7,"y":6.6e-3},
{"g":"e3","x":-6,"y":0.015},{"g":"e3","x":-5,"y":0.0275},{"g":"e3","x":-4,"y":0.045},{"g":"e3","x":-3,"y":0.069},{"g":"e3","x":-2,"y":0.098},{"g":"e3","x":-1,"y":0.12},{"g":"e3","x":0,"y":0.135},{"g":"e3","x":1,"y":0.135},{"g":"e3","x":2,"y":0.12},{"g":"e3","x":3,"y":0.098},{"g":"e3","x":4,"y":0.072},{"g":"e3","x":5,"y":0.048},{"g":"e3","x":6,"y":0.026},
{"g":"e3","x":7,"y":1.1e-2},{"g":"e3","x":7.25,"y":8.3e-3},{"g":"e3","x":7.5,"y":6.3e-3},{"g":"e3","x":7.75,"y":4e-3},{"g":"e3","x":8,"y":2.4e-3},{"g":"e3","x":8.25,"y":1.4e-3},{"g":"e3","x":8.5,"y":8.9e-4},{"g":"e3","x":8.75,"y":5e-4},{"g":"e3","x":9,"y":2.8e-4},{"g":"e3","x":9.25,"y":1.5e-4},{"g":"e3","x":9.5,"y":7.1e-5},{"g":"e3","x":9.75,"y":2.8e-5},{"g":"e3","x":9.9,"y":1.35e-5},{"g":"e3","x":10.05,"y":9e-6},{"g":"e3","x":10.2,"y":4.5e-6},{"g":"e3","x":10.35,"y":9e-6},{"g":"e3","x":10.5,"y":4.5e-6},{"g":"e3","x":10.5,"y":1e-9},

{"g":"e4","x":-10.8,"y":1e-9},{"g":"e4","x":-10.8,"y":4.5e-6},{"g":"e4","x":-10.65,"y":4.5e-6},{"g":"e4","x":-10.5,"y":9e-6},{"g":"e4","x":-10.35,"y":4.5e-6},{"g":"e4","x":-10.2,"y":1.35e-5},{"g":"e4","x":-10.05,"y":9e-6},{"g":"e4","x":-9.9,"y":1.8e-5},{"g":"e4","x":-9.75,"y":2.2e-5},{"g":"e4","x":-9.5,"y":4e-5},{"g":"e4","x":-9.25,"y":9e-5},{"g":"e4","x":-9,"y":1.8e-4},{"g":"e4","x":-8.75,"y":3.3e-4},{"g":"e4","x":-8.5,"y":6.2e-4},{"g":"e4","x":-8.25,"y":1.07e-3},{"g":"e4","x":-8,"y":1.7e-3},{"g":"e4","x":-7.75,"y":2.5e-3},{"g":"e4","x":-7.5,"y":3.6e-3},{"g":"e4","x":-7.25,"y":5e-3},{"g":"e4","x":-7,"y":6.6e-3},
{"g":"e4","x":-6,"y":0.015},{"g":"e4","x":-5,"y":0.0275},{"g":"e4","x":-4,"y":0.045},{"g":"e4","x":-3,"y":0.069},{"g":"e4","x":-2,"y":0.098},{"g":"e4","x":-1,"y":0.12},{"g":"e4","x":0,"y":0.135},{"g":"e4","x":1,"y":0.135},{"g":"e4","x":2,"y":0.12},{"g":"e4","x":3,"y":0.098},{"g":"e4","x":4,"y":0.072},{"g":"e4","x":5,"y":0.048},{"g":"e4","x":6,"y":0.026},
{"g":"e4","x":7,"y":1.1e-2},{"g":"e4","x":7.25,"y":8.3e-3},{"g":"e4","x":7.5,"y":6.4e-3},{"g":"e4","x":7.75,"y":4.1e-3},{"g":"e4","x":8,"y":2.5e-3},{"g":"e4","x":8.25,"y":1.45e-3},{"g":"e4","x":8.5,"y":9.2e-4},{"g":"e4","x":8.75,"y":5.2e-4},{"g":"e4","x":9,"y":2.9e-4},{"g":"e4","x":9.25,"y":1.6e-4},{"g":"e4","x":9.5,"y":7.5e-5},{"g":"e4","x":9.75,"y":3.2e-5},{"g":"e4","x":9.9,"y":1.8e-5},{"g":"e4","x":10.05,"y":9e-6},{"g":"e4","x":10.2,"y":1.35e-5},{"g":"e4","x":10.35,"y":4.5e-6},{"g":"e4","x":10.5,"y":9e-6},{"g":"e4","x":10.65,"y":4.5e-6},{"g":"e4","x":10.65,"y":1e-9},

{"g":"e5","x":-10.6,"y":1e-9},{"g":"e5","x":-10.6,"y":4.5e-6},{"g":"e5","x":-10.45,"y":9e-6},{"g":"e5","x":-10.3,"y":4.5e-6},{"g":"e5","x":-10.15,"y":9e-6},{"g":"e5","x":-10,"y":1.35e-5},{"g":"e5","x":-9.75,"y":2.4e-5},{"g":"e5","x":-9.5,"y":4.2e-5},{"g":"e5","x":-9.25,"y":9e-5},{"g":"e5","x":-9,"y":1.8e-4},{"g":"e5","x":-8.75,"y":3.4e-4},{"g":"e5","x":-8.5,"y":6.3e-4},{"g":"e5","x":-8.25,"y":1.08e-3},{"g":"e5","x":-8,"y":1.7e-3},{"g":"e5","x":-7.75,"y":2.55e-3},{"g":"e5","x":-7.5,"y":3.7e-3},{"g":"e5","x":-7.25,"y":5.1e-3},{"g":"e5","x":-7,"y":6.7e-3},
{"g":"e5","x":-6,"y":0.015},{"g":"e5","x":-5,"y":0.0275},{"g":"e5","x":-4,"y":0.045},{"g":"e5","x":-3,"y":0.069},{"g":"e5","x":-2,"y":0.098},{"g":"e5","x":-1,"y":0.12},{"g":"e5","x":0,"y":0.135},{"g":"e5","x":1,"y":0.135},{"g":"e5","x":2,"y":0.12},{"g":"e5","x":3,"y":0.098},{"g":"e5","x":4,"y":0.072},{"g":"e5","x":5,"y":0.048},{"g":"e5","x":6,"y":0.026},
{"g":"e5","x":7,"y":1.1e-2},{"g":"e5","x":7.25,"y":8.4e-3},{"g":"e5","x":7.5,"y":6.4e-3},{"g":"e5","x":7.75,"y":4.1e-3},{"g":"e5","x":8,"y":2.5e-3},{"g":"e5","x":8.25,"y":1.5e-3},{"g":"e5","x":8.5,"y":9.5e-4},{"g":"e5","x":8.75,"y":5.4e-4},{"g":"e5","x":9,"y":3e-4},{"g":"e5","x":9.25,"y":1.7e-4},{"g":"e5","x":9.5,"y":8e-5},{"g":"e5","x":9.75,"y":3.6e-5},{"g":"e5","x":9.9,"y":2.2e-5},{"g":"e5","x":10.05,"y":1.35e-5},{"g":"e5","x":10.2,"y":9e-6},{"g":"e5","x":10.35,"y":4.5e-6},{"g":"e5","x":10.5,"y":9e-6},{"g":"e5","x":10.65,"y":4.5e-6},{"g":"e5","x":10.8,"y":4.5e-6},{"g":"e5","x":10.8,"y":1e-9},

{"g":"e6","x":-11,"y":1e-9},{"g":"e6","x":-11,"y":4.5e-6},{"g":"e6","x":-10.85,"y":4.5e-6},{"g":"e6","x":-10.85,"y":1e-9},{"g":"e6","x":-10.5,"y":1e-9},{"g":"e6","x":-10.5,"y":4.5e-6},{"g":"e6","x":-10.35,"y":9e-6},{"g":"e6","x":-10.2,"y":4.5e-6},{"g":"e6","x":-10.05,"y":1.35e-5},{"g":"e6","x":-9.9,"y":1.8e-5},{"g":"e6","x":-9.75,"y":2.5e-5},{"g":"e6","x":-9.5,"y":4.4e-5},{"g":"e6","x":-9.25,"y":9.2e-5},{"g":"e6","x":-9,"y":1.8e-4},{"g":"e6","x":-8.75,"y":3.4e-4},{"g":"e6","x":-8.5,"y":6.3e-4},{"g":"e6","x":-8.25,"y":1.1e-3},{"g":"e6","x":-8,"y":1.72e-3},{"g":"e6","x":-7.75,"y":2.6e-3},{"g":"e6","x":-7.5,"y":3.7e-3},{"g":"e6","x":-7.25,"y":5.1e-3},{"g":"e6","x":-7,"y":6.7e-3},
{"g":"e6","x":-6,"y":0.015},{"g":"e6","x":-5,"y":0.0275},{"g":"e6","x":-4,"y":0.045},{"g":"e6","x":-3,"y":0.069},{"g":"e6","x":-2,"y":0.098},{"g":"e6","x":-1,"y":0.12},{"g":"e6","x":0,"y":0.135},{"g":"e6","x":1,"y":0.135},{"g":"e6","x":2,"y":0.12},{"g":"e6","x":3,"y":0.098},{"g":"e6","x":4,"y":0.072},{"g":"e6","x":5,"y":0.048},{"g":"e6","x":6,"y":0.026},
{"g":"e6","x":7,"y":1.1e-2},{"g":"e6","x":7.25,"y":8.4e-3},{"g":"e6","x":7.5,"y":6.4e-3},{"g":"e6","x":7.75,"y":4.1e-3},{"g":"e6","x":8,"y":2.5e-3},{"g":"e6","x":8.25,"y":1.5e-3},{"g":"e6","x":8.5,"y":9.3e-4},{"g":"e6","x":8.75,"y":5.3e-4},{"g":"e6","x":9,"y":3e-4},{"g":"e6","x":9.25,"y":1.6e-4},{"g":"e6","x":9.5,"y":7.8e-5},{"g":"e6","x":9.75,"y":3.4e-5},{"g":"e6","x":9.9,"y":1.8e-5},{"g":"e6","x":10.05,"y":9e-6},{"g":"e6","x":10.2,"y":4.5e-6},{"g":"e6","x":10.35,"y":9e-6},{"g":"e6","x":10.35,"y":1e-9},

{"g":"f2","x":-11.45,"y":1e-9},{"g":"f2","x":-11.45,"y":4.5e-6},{"g":"f2","x":-11.35,"y":4.5e-6},{"g":"f2","x":-11.35,"y":1e-9},{"g":"f2","x":-10.1,"y":1e-9},{"g":"f2","x":-10.1,"y":4.5e-6},{"g":"f2","x":-9.95,"y":9e-6},{"g":"f2","x":-9.8,"y":1.35e-5},{"g":"f2","x":-9.65,"y":2.2e-5},{"g":"f2","x":-9.5,"y":4e-5},{"g":"f2","x":-9.25,"y":9.5e-5},{"g":"f2","x":-9,"y":1.9e-4},{"g":"f2","x":-8.75,"y":3.5e-4},{"g":"f2","x":-8.5,"y":6.6e-4},{"g":"f2","x":-8.25,"y":1.15e-3},{"g":"f2","x":-8,"y":1.75e-3},{"g":"f2","x":-7.75,"y":2.55e-3},{"g":"f2","x":-7.5,"y":3.6e-3},{"g":"f2","x":-7.25,"y":4.9e-3},{"g":"f2","x":-7,"y":6.5e-3},
{"g":"f2","x":-6,"y":0.0148},{"g":"f2","x":-5,"y":0.025},{"g":"f2","x":-4,"y":0.043},{"g":"f2","x":-3,"y":0.066},{"g":"f2","x":-2,"y":0.092},{"g":"f2","x":-1,"y":0.117},{"g":"f2","x":0,"y":0.135},{"g":"f2","x":1,"y":0.135},{"g":"f2","x":2,"y":0.117},{"g":"f2","x":3,"y":0.093},{"g":"f2","x":4,"y":0.068},{"g":"f2","x":5,"y":0.044},{"g":"f2","x":6,"y":0.024},
{"g":"f2","x":7,"y":1e-2},{"g":"f2","x":7.25,"y":7.7e-3},{"g":"f2","x":7.5,"y":5.7e-3},{"g":"f2","x":7.75,"y":3.9e-3},{"g":"f2","x":8,"y":2.6e-3},{"g":"f2","x":8.25,"y":1.7e-3},{"g":"f2","x":8.5,"y":1.05e-3},{"g":"f2","x":8.75,"y":6e-4},{"g":"f2","x":9,"y":3.5e-4},{"g":"f2","x":9.25,"y":1.8e-4},{"g":"f2","x":9.5,"y":9e-5},{"g":"f2","x":9.75,"y":4e-5},{"g":"f2","x":9.9,"y":2.2e-5},{"g":"f2","x":10.05,"y":1.35e-5},{"g":"f2","x":10.2,"y":1.8e-5},{"g":"f2","x":10.35,"y":9e-6},{"g":"f2","x":10.5,"y":4.5e-6},{"g":"f2","x":10.65,"y":9e-6},{"g":"f2","x":10.8,"y":4.5e-6},{"g":"f2","x":10.8,"y":1e-9},

{"g":"f3","x":-10.2,"y":1e-9},{"g":"f3","x":-10.2,"y":4.5e-6},{"g":"f3","x":-10.05,"y":9e-6},{"g":"f3","x":-9.9,"y":1.35e-5},{"g":"f3","x":-9.75,"y":2.2e-5},{"g":"f3","x":-9.6,"y":3.6e-5},{"g":"f3","x":-9.4,"y":6.5e-5},{"g":"f3","x":-9.25,"y":1.1e-4},{"g":"f3","x":-9,"y":2.2e-4},{"g":"f3","x":-8.75,"y":4e-4},{"g":"f3","x":-8.5,"y":7.3e-4},{"g":"f3","x":-8.25,"y":1.22e-3},{"g":"f3","x":-8,"y":1.82e-3},{"g":"f3","x":-7.75,"y":2.6e-3},{"g":"f3","x":-7.5,"y":3.7e-3},{"g":"f3","x":-7.25,"y":5e-3},{"g":"f3","x":-7,"y":6.6e-3},
{"g":"f3","x":-6,"y":0.0148},{"g":"f3","x":-5,"y":0.025},{"g":"f3","x":-4,"y":0.043},{"g":"f3","x":-3,"y":0.066},{"g":"f3","x":-2,"y":0.092},{"g":"f3","x":-1,"y":0.117},{"g":"f3","x":0,"y":0.135},{"g":"f3","x":1,"y":0.135},{"g":"f3","x":2,"y":0.117},{"g":"f3","x":3,"y":0.093},{"g":"f3","x":4,"y":0.068},{"g":"f3","x":5,"y":0.044},{"g":"f3","x":6,"y":0.024},
{"g":"f3","x":7,"y":1e-2},{"g":"f3","x":7.25,"y":7.6e-3},{"g":"f3","x":7.5,"y":5.6e-3},{"g":"f3","x":7.75,"y":3.8e-3},{"g":"f3","x":8,"y":2.5e-3},{"g":"f3","x":8.25,"y":1.6e-3},{"g":"f3","x":8.5,"y":1e-3},{"g":"f3","x":8.75,"y":5.6e-4},{"g":"f3","x":9,"y":3.2e-4},{"g":"f3","x":9.25,"y":1.6e-4},{"g":"f3","x":9.5,"y":7.9e-5},{"g":"f3","x":9.75,"y":3.2e-5},{"g":"f3","x":9.9,"y":1.8e-5},{"g":"f3","x":10.05,"y":9e-6},{"g":"f3","x":10.2,"y":1.35e-5},{"g":"f3","x":10.35,"y":4.5e-6},{"g":"f3","x":10.35,"y":1e-9},

{"g":"f4","x":-10.3,"y":1e-9},{"g":"f4","x":-10.3,"y":4.5e-6},{"g":"f4","x":-10.15,"y":4.5e-6},{"g":"f4","x":-10,"y":1.35e-5},{"g":"f4","x":-9.85,"y":1.8e-5},{"g":"f4","x":-9.7,"y":2.7e-5},{"g":"f4","x":-9.5,"y":5.5e-5},{"g":"f4","x":-9.25,"y":1.2e-4},{"g":"f4","x":-9,"y":2.3e-4},{"g":"f4","x":-8.75,"y":4.1e-4},{"g":"f4","x":-8.5,"y":7.4e-4},{"g":"f4","x":-8.25,"y":1.23e-3},{"g":"f4","x":-8,"y":1.83e-3},{"g":"f4","x":-7.75,"y":2.65e-3},{"g":"f4","x":-7.5,"y":3.7e-3},{"g":"f4","x":-7.25,"y":5e-3},{"g":"f4","x":-7,"y":6.6e-3},
{"g":"f4","x":-6,"y":0.0148},{"g":"f4","x":-5,"y":0.025},{"g":"f4","x":-4,"y":0.043},{"g":"f4","x":-3,"y":0.066},{"g":"f4","x":-2,"y":0.092},{"g":"f4","x":-1,"y":0.117},{"g":"f4","x":0,"y":0.135},{"g":"f4","x":1,"y":0.135},{"g":"f4","x":2,"y":0.117},{"g":"f4","x":3,"y":0.093},{"g":"f4","x":4,"y":0.068},{"g":"f4","x":5,"y":0.044},{"g":"f4","x":6,"y":0.024},
{"g":"f4","x":7,"y":1e-2},{"g":"f4","x":7.25,"y":7.6e-3},{"g":"f4","x":7.5,"y":5.6e-3},{"g":"f4","x":7.75,"y":3.8e-3},{"g":"f4","x":8,"y":2.5e-3},{"g":"f4","x":8.25,"y":1.6e-3},{"g":"f4","x":8.5,"y":1e-3},{"g":"f4","x":8.75,"y":5.5e-4},{"g":"f4","x":9,"y":3.1e-4},{"g":"f4","x":9.25,"y":1.5e-4},{"g":"f4","x":9.5,"y":7.5e-5},{"g":"f4","x":9.75,"y":2.8e-5},{"g":"f4","x":9.9,"y":1.35e-5},{"g":"f4","x":10.05,"y":9e-6},{"g":"f4","x":10.2,"y":4.5e-6},{"g":"f4","x":10.35,"y":9e-6},{"g":"f4","x":10.5,"y":4.5e-6},{"g":"f4","x":10.5,"y":1e-9},

{"g":"f5","x":-10.4,"y":1e-9},{"g":"f5","x":-10.4,"y":4.5e-6},{"g":"f5","x":-10.25,"y":9e-6},{"g":"f5","x":-10.1,"y":4.5e-6},{"g":"f5","x":-9.95,"y":1.35e-5},{"g":"f5","x":-9.8,"y":2.2e-5},{"g":"f5","x":-9.6,"y":4e-5},{"g":"f5","x":-9.4,"y":7.5e-5},{"g":"f5","x":-9.25,"y":1.15e-4},{"g":"f5","x":-9,"y":2.2e-4},{"g":"f5","x":-8.75,"y":4e-4},{"g":"f5","x":-8.5,"y":7.2e-4},{"g":"f5","x":-8.25,"y":1.2e-3},{"g":"f5","x":-8,"y":1.8e-3},{"g":"f5","x":-7.75,"y":2.6e-3},{"g":"f5","x":-7.5,"y":3.7e-3},{"g":"f5","x":-7.25,"y":5e-3},{"g":"f5","x":-7,"y":6.6e-3},
{"g":"f5","x":-6,"y":0.0148},{"g":"f5","x":-5,"y":0.025},{"g":"f5","x":-4,"y":0.043},{"g":"f5","x":-3,"y":0.066},{"g":"f5","x":-2,"y":0.092},{"g":"f5","x":-1,"y":0.117},{"g":"f5","x":0,"y":0.135},{"g":"f5","x":1,"y":0.135},{"g":"f5","x":2,"y":0.117},{"g":"f5","x":3,"y":0.093},{"g":"f5","x":4,"y":0.068},{"g":"f5","x":5,"y":0.044},{"g":"f5","x":6,"y":0.024},
{"g":"f5","x":7,"y":1e-2},{"g":"f5","x":7.25,"y":7.6e-3},{"g":"f5","x":7.5,"y":5.6e-3},{"g":"f5","x":7.75,"y":3.8e-3},{"g":"f5","x":8,"y":2.5e-3},{"g":"f5","x":8.25,"y":1.6e-3},{"g":"f5","x":8.5,"y":9.8e-4},{"g":"f5","x":8.75,"y":5.4e-4},{"g":"f5","x":9,"y":3e-4},{"g":"f5","x":9.25,"y":1.5e-4},{"g":"f5","x":9.5,"y":7.2e-5},{"g":"f5","x":9.75,"y":2.8e-5},{"g":"f5","x":9.9,"y":1.35e-5},{"g":"f5","x":10.05,"y":4.5e-6},{"g":"f5","x":10.2,"y":9e-6},{"g":"f5","x":10.35,"y":4.5e-6},{"g":"f5","x":10.5,"y":9e-6},{"g":"f5","x":10.65,"y":4.5e-6},{"g":"f5","x":10.65,"y":1e-9},

{"g":"f6","x":-10.4,"y":1e-9},{"g":"f6","x":-10.4,"y":4.5e-6},{"g":"f6","x":-10.25,"y":4.5e-6},{"g":"f6","x":-10.1,"y":9e-6},{"g":"f6","x":-9.95,"y":1.35e-5},{"g":"f6","x":-9.8,"y":1.8e-5},{"g":"f6","x":-9.6,"y":3.8e-5},{"g":"f6","x":-9.4,"y":7e-5},{"g":"f6","x":-9.25,"y":1.1e-4},{"g":"f6","x":-9,"y":2.1e-4},{"g":"f6","x":-8.75,"y":3.9e-4},{"g":"f6","x":-8.5,"y":7.1e-4},{"g":"f6","x":-8.25,"y":1.2e-3},{"g":"f6","x":-8,"y":1.8e-3},{"g":"f6","x":-7.75,"y":2.6e-3},{"g":"f6","x":-7.5,"y":3.7e-3},{"g":"f6","x":-7.25,"y":5e-3},{"g":"f6","x":-7,"y":6.6e-3},
{"g":"f6","x":-6,"y":0.0148},{"g":"f6","x":-5,"y":0.025},{"g":"f6","x":-4,"y":0.043},{"g":"f6","x":-3,"y":0.066},{"g":"f6","x":-2,"y":0.092},{"g":"f6","x":-1,"y":0.117},{"g":"f6","x":0,"y":0.135},{"g":"f6","x":1,"y":0.135},{"g":"f6","x":2,"y":0.117},{"g":"f6","x":3,"y":0.093},{"g":"f6","x":4,"y":0.068},{"g":"f6","x":5,"y":0.044},{"g":"f6","x":6,"y":0.024},
{"g":"f6","x":7,"y":1e-2},{"g":"f6","x":7.25,"y":7.6e-3},{"g":"f6","x":7.5,"y":5.6e-3},{"g":"f6","x":7.75,"y":3.8e-3},{"g":"f6","x":8,"y":2.5e-3},{"g":"f6","x":8.25,"y":1.6e-3},{"g":"f6","x":8.5,"y":1e-3},{"g":"f6","x":8.75,"y":5.5e-4},{"g":"f6","x":9,"y":3.1e-4},{"g":"f6","x":9.25,"y":1.55e-4},{"g":"f6","x":9.5,"y":7.5e-5},{"g":"f6","x":9.75,"y":3e-5},{"g":"f6","x":9.9,"y":1.35e-5},{"g":"f6","x":10.05,"y":9e-6},{"g":"f6","x":10.2,"y":4.5e-6},{"g":"f6","x":10.35,"y":9e-6},{"g":"f6","x":10.5,"y":4.5e-6},{"g":"f6","x":10.5,"y":1e-9}
]
},
"vconcat": [
{"hconcat": [
 {"title": {"text": "a", "anchor": "start", "frame": "group", "font": "Liberation Sans", "fontSize": 34, "fontWeight": "bold", "color": "#000000", "offset": -22, "dx": -52},
  "vconcat": [{"title": {"text": "PC1"}, "width": 300, "height": 184, "data": {"name": "h"},
   "transform": [{"filter": {"field": "g", "oneOf": ["a2","a3","a4","a5","a6"]}}, {"lookup": "g", "from": {"data": {"name": "names"}, "key": "g", "fields": ["name"]}}],
   "mark": {"type": "line", "clip": true, "strokeWidth": 1.5, "opacity": 0.9},
   "encoding": {
    "x": {"field": "x", "type": "quantitative", "scale": {"domain": [-12.25, 12.75], "nice": false, "zero": false}, "axis": {"values": [-10,-5,0,5,10], "title": "Principal Component Projection"}},
    "y": {"field": "y", "type": "quantitative", "scale": {"type": "log", "domain": [3e-6, 0.195], "nice": false}, "axis": {"values": [0.1,0.01,0.001,0.0001,0.00001], "labelExpr": "['10⁰','10⁻¹','10⁻²','10⁻³','10⁻⁴','10⁻⁵','10⁻⁶'][round(-log(datum.value)/LN10)]", "title": "Probability Density"}},
    "color": {"field": "name", "type": "nominal", "scale": {"domain": ["0.2BSA-LG-PLys-Coil","0.3BSA-LG-PLys-Coil","0.4BSA-LG-PLys-Coil","0.5BSA-LG-PLys-Coil","0.6BSA-LG-PLys-Coil"], "range": ["#1a1af0","#2a4ee0","#3a78c8","#30a6b2","#34d6a2"]}, "legend": {"title": null}},
    "order": {"value": null}}}],
  "resolve": {"scale": {"color": "independent"}}},
 {"title": {"text": "b", "anchor": "start", "frame": "group", "font": "Liberation Sans", "fontSize": 34, "fontWeight": "bold", "color": "#000000", "offset": -22, "dx": -52},
  "vconcat": [{"title": {"text": "PC1"}, "width": 299, "height": 184, "data": {"name": "h"},
   "transform": [{"filter": {"field": "g", "oneOf": ["b2","b3","b4","b5","b6"]}}, {"lookup": "g", "from": {"data": {"name": "names"}, "key": "g", "fields": ["name"]}}],
   "mark": {"type": "line", "clip": true, "strokeWidth": 1.5, "opacity": 0.9},
   "encoding": {
    "x": {"field": "x", "type": "quantitative", "scale": {"domain": [-12.1, 13.5], "nice": false, "zero": false}, "axis": {"values": [-10,-5,0,5,10], "title": "Principal Component Projection"}},
    "y": {"field": "y", "type": "quantitative", "scale": {"type": "log", "domain": [2.1e-6, 0.18], "nice": false}, "axis": {"values": [0.1,0.01,0.001,0.0001,0.00001], "labelExpr": "['10⁰','10⁻¹','10⁻²','10⁻³','10⁻⁴','10⁻⁵','10⁻⁶'][round(-log(datum.value)/LN10)]", "title": "Probability Density"}},
    "color": {"field": "name", "type": "nominal", "scale": {"domain": ["0.2BSA-GL-PLys-Coil","0.3BSA-GL-PLys-Coil","0.4BSA-GL-PLys-Coil","0.5BSA-GL-PLys-Coil","0.6BSA-GL-PLys-Coil"], "range": ["#17785a","#2f9070","#74b27c","#a8cf6a","#d8e872"]}, "legend": {"title": null}},
    "order": {"value": null}}}],
  "resolve": {"scale": {"color": "independent"}}},
 {"title": {"text": "c", "anchor": "start", "frame": "group", "font": "Liberation Sans", "fontSize": 34, "fontWeight": "bold", "color": "#000000", "offset": -22, "dx": -52},
  "vconcat": [{"title": {"text": "PC1"}, "width": 290, "height": 184, "data": {"name": "h"},
   "transform": [{"filter": {"field": "g", "oneOf": ["c2","c3","c4","c5","c6"]}}, {"lookup": "g", "from": {"data": {"name": "names"}, "key": "g", "fields": ["name"]}}],
   "mark": {"type": "line", "clip": true, "strokeWidth": 1.5, "opacity": 0.9},
   "encoding": {
    "x": {"field": "x", "type": "quantitative", "scale": {"domain": [-12.2, 11.25], "nice": false, "zero": false}, "axis": {"values": [-10,-5,0,5,10], "title": "Principal Component Projection"}},
    "y": {"field": "y", "type": "quantitative", "scale": {"type": "log", "domain": [2.3e-6, 0.18], "nice": false}, "axis": {"values": [0.1,0.01,0.001,0.0001,0.00001], "labelExpr": "['10⁰','10⁻¹','10⁻²','10⁻³','10⁻⁴','10⁻⁵','10⁻⁶'][round(-log(datum.value)/LN10)]", "title": "Probability Density"}},
    "color": {"field": "name", "type": "nominal", "scale": {"domain": ["0.2BSA-SIM-PLys-Coil","0.3BSA-SIM-PLys-Coil","0.4BSA-SIM-PLys-Coil","0.5BSA-SIM-PLys-Coil","0.6BSA-SIM-PLys-Coil"], "range": ["#e81e1e","#ee4a2c","#f27a34","#f6a11e","#f6d020"]}, "legend": {"title": null}},
    "order": {"value": null}}}],
  "resolve": {"scale": {"color": "independent"}}}
 ], "spacing": 24, "resolve": {"scale": {"color": "independent"}}},
{"hconcat": [
 {"title": {"text": "d", "anchor": "start", "frame": "group", "font": "Liberation Sans", "fontSize": 34, "fontWeight": "bold", "color": "#000000", "offset": -22, "dx": -52},
  "vconcat": [{"title": {"text": "PC2"}, "width": 300, "height": 186, "data": {"name": "h"},
   "transform": [{"filter": {"field": "g", "oneOf": ["d2","d3","d4","d5","d6"]}}, {"lookup": "g", "from": {"data": {"name": "names"}, "key": "g", "fields": ["name"]}}],
   "mark": {"type": "line", "clip": true, "strokeWidth": 1.5, "opacity": 0.9},
   "encoding": {
    "x": {"field": "x", "type": "quantitative", "scale": {"domain": [-11.4, 11.6], "nice": false, "zero": false}, "axis": {"values": [-10,-5,0,5,10], "title": "Principal Component Projection"}},
    "y": {"field": "y", "type": "quantitative", "scale": {"type": "log", "domain": [2.7e-6, 0.245], "nice": false}, "axis": {"values": [0.1,0.01,0.001,0.0001,0.00001], "labelExpr": "['10⁰','10⁻¹','10⁻²','10⁻³','10⁻⁴','10⁻⁵','10⁻⁶'][round(-log(datum.value)/LN10)]", "title": "Probability Density"}},
    "color": {"field": "name", "type": "nominal", "scale": {"domain": ["0.2BSA-LG-PLys-Coil","0.3BSA-LG-PLys-Coil","0.4BSA-LG-PLys-Coil","0.5BSA-LG-PLys-Coil","0.6BSA-LG-PLys-Coil"], "range": ["#1a1af0","#2a4ee0","#3a78c8","#30a6b2","#34d6a2"]}, "legend": {"title": null}},
    "order": {"value": null}}}],
  "resolve": {"scale": {"color": "independent"}}},
 {"title": {"text": "e", "anchor": "start", "frame": "group", "font": "Liberation Sans", "fontSize": 34, "fontWeight": "bold", "color": "#000000", "offset": -22, "dx": -52},
  "vconcat": [{"title": {"text": "PC2"}, "width": 299, "height": 186, "data": {"name": "h"},
   "transform": [{"filter": {"field": "g", "oneOf": ["e2","e3","e4","e5","e6"]}}, {"lookup": "g", "from": {"data": {"name": "names"}, "key": "g", "fields": ["name"]}}],
   "mark": {"type": "line", "clip": true, "strokeWidth": 1.5, "opacity": 0.9},
   "encoding": {
    "x": {"field": "x", "type": "quantitative", "scale": {"domain": [-12.0, 12.1], "nice": false, "zero": false}, "axis": {"values": [-10,-5,0,5,10], "title": "Principal Component Projection"}},
    "y": {"field": "y", "type": "quantitative", "scale": {"type": "log", "domain": [2.0e-6, 0.25], "nice": false}, "axis": {"values": [0.1,0.01,0.001,0.0001,0.00001], "labelExpr": "['10⁰','10⁻¹','10⁻²','10⁻³','10⁻⁴','10⁻⁵','10⁻⁶'][round(-log(datum.value)/LN10)]", "title": "Probability Density"}},
    "color": {"field": "name", "type": "nominal", "scale": {"domain": ["0.2BSA-GL-PLys-Coil","0.3BSA-GL-PLys-Coil","0.4BSA-GL-PLys-Coil","0.5BSA-GL-PLys-Coil","0.6BSA-GL-PLys-Coil"], "range": ["#17785a","#2f9070","#74b27c","#a8cf6a","#d8e872"]}, "legend": {"title": null}},
    "order": {"value": null}}}],
  "resolve": {"scale": {"color": "independent"}}},
 {"title": {"text": "f", "anchor": "start", "frame": "group", "font": "Liberation Sans", "fontSize": 34, "fontWeight": "bold", "color": "#000000", "offset": -22, "dx": -52},
  "vconcat": [{"title": {"text": "PC2"}, "width": 293, "height": 186, "data": {"name": "h"},
   "transform": [{"filter": {"field": "g", "oneOf": ["f2","f3","f4","f5","f6"]}}, {"lookup": "g", "from": {"data": {"name": "names"}, "key": "g", "fields": ["name"]}}],
   "mark": {"type": "line", "clip": true, "strokeWidth": 1.5, "opacity": 0.9},
   "encoding": {
    "x": {"field": "x", "type": "quantitative", "scale": {"domain": [-12.3, 11.35], "nice": false, "zero": false}, "axis": {"values": [-10,-5,0,5,10], "title": "Principal Component Projection"}},
    "y": {"field": "y", "type": "quantitative", "scale": {"type": "log", "domain": [2.6e-6, 0.235], "nice": false}, "axis": {"values": [0.1,0.01,0.001,0.0001,0.00001], "labelExpr": "['10⁰','10⁻¹','10⁻²','10⁻³','10⁻⁴','10⁻⁵','10⁻⁶'][round(-log(datum.value)/LN10)]", "title": "Probability Density"}},
    "color": {"field": "name", "type": "nominal", "scale": {"domain": ["0.2BSA-SIM-PLys-Coil","0.3BSA-SIM-PLys-Coil","0.4BSA-SIM-PLys-Coil","0.5BSA-SIM-PLys-Coil","0.6BSA-SIM-PLys-Coil"], "range": ["#e81e1e","#ee4a2c","#f27a34","#f6a11e","#f6d020"]}, "legend": {"title": null}},
    "order": {"value": null}}}],
  "resolve": {"scale": {"color": "independent"}}}
 ], "spacing": 24, "resolve": {"scale": {"color": "independent"}}}
],
"spacing": 5,
"resolve": {"scale": {"color": "independent"}}
}
